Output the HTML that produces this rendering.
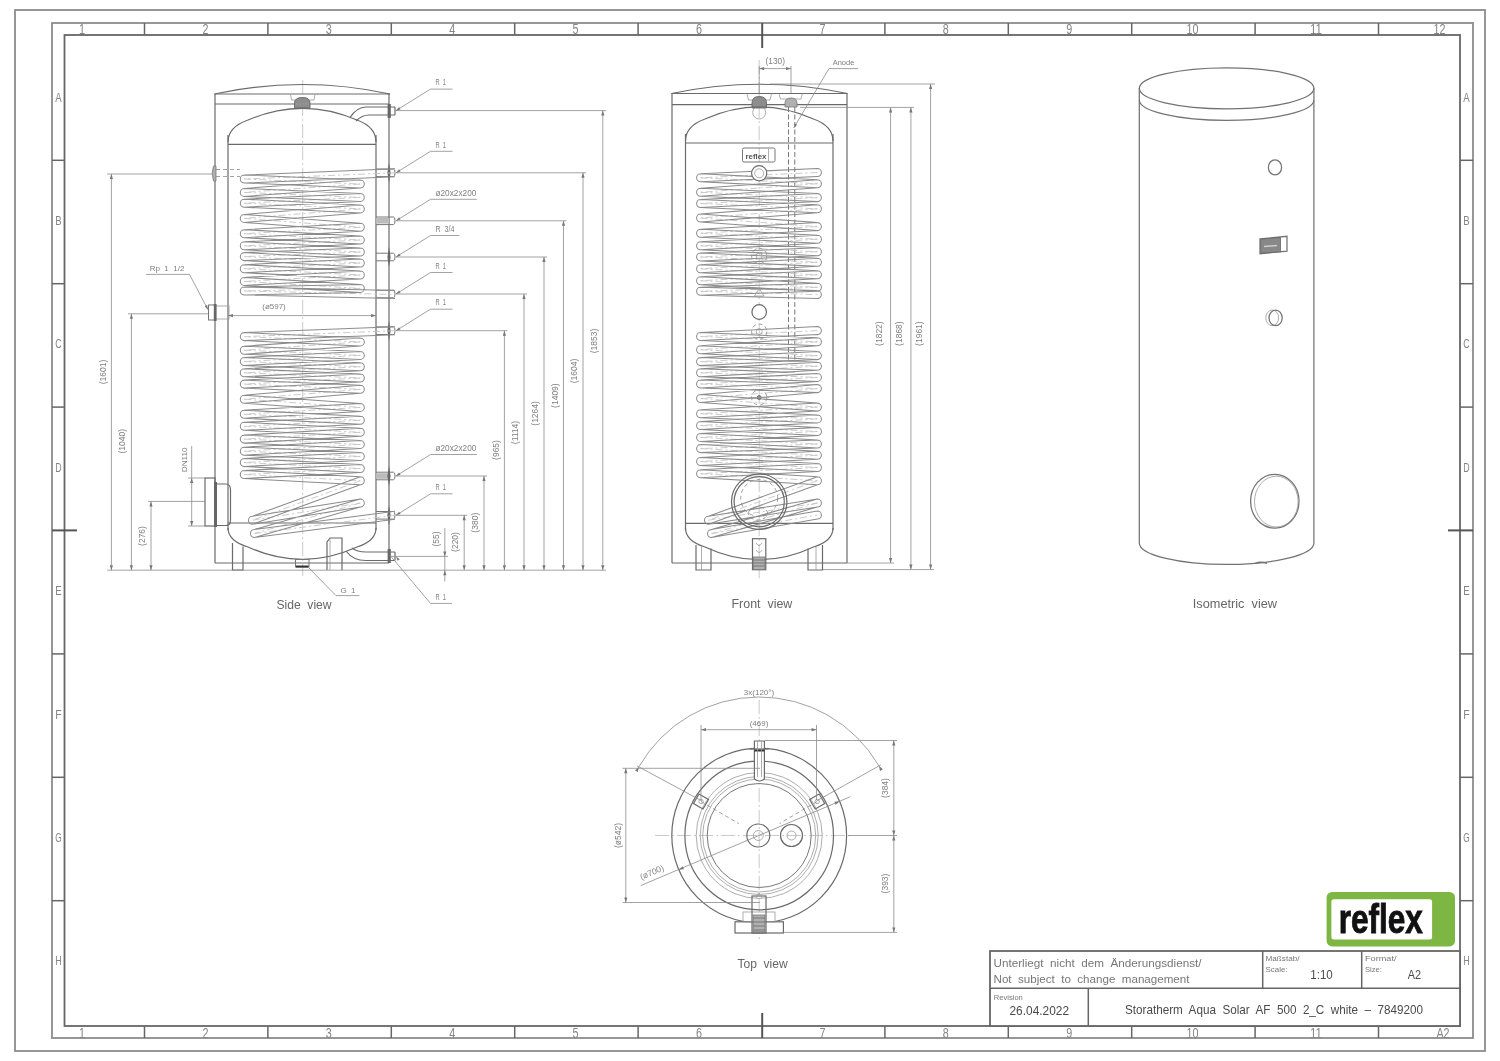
<!DOCTYPE html>
<html><head><meta charset="utf-8"><title>Storatherm Aqua Solar AF 500</title>
<style>
html,body{margin:0;padding:0;background:#fff;}
body{width:1500px;height:1061px;overflow:hidden;}
svg{display:block;font-family:"Liberation Sans",sans-serif;filter:blur(0.35px);}
.o{fill:none;stroke:#6a6a6a;stroke-width:1.2;}
.o2{fill:none;stroke:#777;stroke-width:1.0;}
.o4{fill:none;stroke:#737373;stroke-width:1.25;}
.o3w{fill:none;stroke:#ccc;stroke-width:1.6;}
.o3{fill:none;stroke:#999;stroke-width:0.8;}
.thick{fill:none;stroke:#333;stroke-width:2;}
.dk{fill:#777;stroke:#555;stroke-width:1;}
.dk3{fill:#8d8d8d;stroke:#666;stroke-width:0.9;}
.dk4{fill:#b0b0b0;stroke:#777;stroke-width:0.8;}
.dk2{fill:#888;stroke:#666;stroke-width:0.8;}
.fl{fill:#666;stroke:none;}
.d{fill:none;stroke:#8a8a8a;stroke-width:0.8;}
.c{fill:none;stroke:#bbb;stroke-width:0.8;stroke-dasharray:14 3 2 3;}
.dash2{fill:none;stroke:#777;stroke-width:1;stroke-dasharray:5 2.5;}
.dash{fill:none;stroke:#888;stroke-width:0.8;stroke-dasharray:4 3;}
.ah{fill:#777;stroke:none;}
.cl5{fill:none;stroke:#8c8c8c;stroke-width:1.05;}
.cl4{fill:none;stroke:#858585;stroke-width:1.75;stroke-linejoin:round;}
.cl3{fill:none;stroke:#8a8a8a;stroke-width:2.1;stroke-linejoin:round;}
.cl{fill:none;stroke:#7a7a7a;stroke-width:1.0;}
.cc{fill:none;stroke:#c4c4c4;stroke-width:0.9;stroke-dasharray:7 3 2 3;}
.tb{fill:none;stroke:#7a7a7a;stroke-linejoin:round;stroke-linecap:round;}
.tw{fill:none;stroke:#fff;stroke-linejoin:round;stroke-linecap:round;}
.f1{fill:none;stroke:#8c8c8c;stroke-width:1.8;}
.f2{fill:none;stroke:#666;stroke-width:1.8;}
.f3{fill:none;stroke:#666;stroke-width:1.5;}
.f4{fill:none;stroke:#555;stroke-width:2;}
.t{fill:#555;}
.tf{fill:#858585;}
.td{fill:#808080;}
.tv{fill:#666;}
.tt{fill:#777;}
.tt2{fill:#4a4a4a;}
</style></head>
<body><svg width="1500" height="1061" viewBox="0 0 1500 1061">
<rect x="0" y="0" width="1500" height="1061" fill="#fff"/>
<rect class="f1" x="15" y="10" width="1470" height="1041"/>
<rect class="f1" x="52" y="23" width="1421" height="1015"/>
<rect class="f2" x="64.5" y="35" width="1395.5" height="991"/>
<line class="f3" x1="144.5" y1="23" x2="144.5" y2="35"/>
<line class="f3" x1="144.5" y1="1026" x2="144.5" y2="1038"/>
<line class="f3" x1="267.9" y1="23" x2="267.9" y2="35"/>
<line class="f3" x1="267.9" y1="1026" x2="267.9" y2="1038"/>
<line class="f3" x1="391.3" y1="23" x2="391.3" y2="35"/>
<line class="f3" x1="391.3" y1="1026" x2="391.3" y2="1038"/>
<line class="f3" x1="514.7" y1="23" x2="514.7" y2="35"/>
<line class="f3" x1="514.7" y1="1026" x2="514.7" y2="1038"/>
<line class="f3" x1="638.1" y1="23" x2="638.1" y2="35"/>
<line class="f3" x1="638.1" y1="1026" x2="638.1" y2="1038"/>
<line class="f3" x1="884.9" y1="23" x2="884.9" y2="35"/>
<line class="f3" x1="884.9" y1="1026" x2="884.9" y2="1038"/>
<line class="f3" x1="1008.3" y1="23" x2="1008.3" y2="35"/>
<line class="f3" x1="1008.3" y1="1026" x2="1008.3" y2="1038"/>
<line class="f3" x1="1131.7" y1="23" x2="1131.7" y2="35"/>
<line class="f3" x1="1131.7" y1="1026" x2="1131.7" y2="1038"/>
<line class="f3" x1="1255.1" y1="23" x2="1255.1" y2="35"/>
<line class="f3" x1="1255.1" y1="1026" x2="1255.1" y2="1038"/>
<line class="f3" x1="1378.5" y1="23" x2="1378.5" y2="35"/>
<line class="f3" x1="1378.5" y1="1026" x2="1378.5" y2="1038"/>
<line class="f4" x1="762.2" y1="23" x2="762.2" y2="48"/>
<line class="f4" x1="762.2" y1="1013" x2="762.2" y2="1038"/>
<text class="tf" x="82" y="34.3" font-size="15" text-anchor="middle" xml:space="preserve" textLength="6" lengthAdjust="spacingAndGlyphs">1</text>
<text class="tf" x="82" y="1037.6" font-size="15" text-anchor="middle" xml:space="preserve" textLength="6" lengthAdjust="spacingAndGlyphs">1</text>
<text class="tf" x="205.4" y="34.3" font-size="15" text-anchor="middle" xml:space="preserve" textLength="6" lengthAdjust="spacingAndGlyphs">2</text>
<text class="tf" x="205.4" y="1037.6" font-size="15" text-anchor="middle" xml:space="preserve" textLength="6" lengthAdjust="spacingAndGlyphs">2</text>
<text class="tf" x="328.8" y="34.3" font-size="15" text-anchor="middle" xml:space="preserve" textLength="6" lengthAdjust="spacingAndGlyphs">3</text>
<text class="tf" x="328.8" y="1037.6" font-size="15" text-anchor="middle" xml:space="preserve" textLength="6" lengthAdjust="spacingAndGlyphs">3</text>
<text class="tf" x="452.2" y="34.3" font-size="15" text-anchor="middle" xml:space="preserve" textLength="6" lengthAdjust="spacingAndGlyphs">4</text>
<text class="tf" x="452.2" y="1037.6" font-size="15" text-anchor="middle" xml:space="preserve" textLength="6" lengthAdjust="spacingAndGlyphs">4</text>
<text class="tf" x="575.6" y="34.3" font-size="15" text-anchor="middle" xml:space="preserve" textLength="6" lengthAdjust="spacingAndGlyphs">5</text>
<text class="tf" x="575.6" y="1037.6" font-size="15" text-anchor="middle" xml:space="preserve" textLength="6" lengthAdjust="spacingAndGlyphs">5</text>
<text class="tf" x="699" y="34.3" font-size="15" text-anchor="middle" xml:space="preserve" textLength="6" lengthAdjust="spacingAndGlyphs">6</text>
<text class="tf" x="699" y="1037.6" font-size="15" text-anchor="middle" xml:space="preserve" textLength="6" lengthAdjust="spacingAndGlyphs">6</text>
<text class="tf" x="822.4" y="34.3" font-size="15" text-anchor="middle" xml:space="preserve" textLength="6" lengthAdjust="spacingAndGlyphs">7</text>
<text class="tf" x="822.4" y="1037.6" font-size="15" text-anchor="middle" xml:space="preserve" textLength="6" lengthAdjust="spacingAndGlyphs">7</text>
<text class="tf" x="945.8" y="34.3" font-size="15" text-anchor="middle" xml:space="preserve" textLength="6" lengthAdjust="spacingAndGlyphs">8</text>
<text class="tf" x="945.8" y="1037.6" font-size="15" text-anchor="middle" xml:space="preserve" textLength="6" lengthAdjust="spacingAndGlyphs">8</text>
<text class="tf" x="1069.2" y="34.3" font-size="15" text-anchor="middle" xml:space="preserve" textLength="6" lengthAdjust="spacingAndGlyphs">9</text>
<text class="tf" x="1069.2" y="1037.6" font-size="15" text-anchor="middle" xml:space="preserve" textLength="6" lengthAdjust="spacingAndGlyphs">9</text>
<text class="tf" x="1192.6" y="34.3" font-size="15" text-anchor="middle" xml:space="preserve" textLength="12" lengthAdjust="spacingAndGlyphs">10</text>
<text class="tf" x="1192.6" y="1037.6" font-size="15" text-anchor="middle" xml:space="preserve" textLength="12" lengthAdjust="spacingAndGlyphs">10</text>
<text class="tf" x="1316" y="34.3" font-size="15" text-anchor="middle" xml:space="preserve" textLength="12" lengthAdjust="spacingAndGlyphs">11</text>
<text class="tf" x="1316" y="1037.6" font-size="15" text-anchor="middle" xml:space="preserve" textLength="12" lengthAdjust="spacingAndGlyphs">11</text>
<text class="tf" x="1439.4" y="34.3" font-size="15" text-anchor="middle" xml:space="preserve" textLength="12" lengthAdjust="spacingAndGlyphs">12</text>
<text class="tf" x="1443" y="1037.6" font-size="15" text-anchor="middle" xml:space="preserve" textLength="13.2" lengthAdjust="spacingAndGlyphs">A2</text>
<line class="f3" x1="52" y1="160.3" x2="64.5" y2="160.3"/>
<line class="f3" x1="1460" y1="160.3" x2="1473" y2="160.3"/>
<line class="f3" x1="52" y1="283.7" x2="64.5" y2="283.7"/>
<line class="f3" x1="1460" y1="283.7" x2="1473" y2="283.7"/>
<line class="f3" x1="52" y1="407.1" x2="64.5" y2="407.1"/>
<line class="f3" x1="1460" y1="407.1" x2="1473" y2="407.1"/>
<line class="f3" x1="52" y1="653.9" x2="64.5" y2="653.9"/>
<line class="f3" x1="1460" y1="653.9" x2="1473" y2="653.9"/>
<line class="f3" x1="52" y1="777.3" x2="64.5" y2="777.3"/>
<line class="f3" x1="1460" y1="777.3" x2="1473" y2="777.3"/>
<line class="f3" x1="52" y1="900.7" x2="64.5" y2="900.7"/>
<line class="f3" x1="1460" y1="900.7" x2="1473" y2="900.7"/>
<line class="f4" x1="52" y1="530.4" x2="77" y2="530.4"/>
<line class="f4" x1="1448" y1="530.4" x2="1473" y2="530.4"/>
<text class="tf" x="58.4" y="101.6" font-size="13" text-anchor="middle" xml:space="preserve" textLength="6.4" lengthAdjust="spacingAndGlyphs">A</text>
<text class="tf" x="1466.5" y="101.6" font-size="13" text-anchor="middle" xml:space="preserve" textLength="6.4" lengthAdjust="spacingAndGlyphs">A</text>
<text class="tf" x="58.4" y="225" font-size="13" text-anchor="middle" xml:space="preserve" textLength="6.4" lengthAdjust="spacingAndGlyphs">B</text>
<text class="tf" x="1466.5" y="225" font-size="13" text-anchor="middle" xml:space="preserve" textLength="6.4" lengthAdjust="spacingAndGlyphs">B</text>
<text class="tf" x="58.4" y="348.4" font-size="13" text-anchor="middle" xml:space="preserve" textLength="6.4" lengthAdjust="spacingAndGlyphs">C</text>
<text class="tf" x="1466.5" y="348.4" font-size="13" text-anchor="middle" xml:space="preserve" textLength="6.4" lengthAdjust="spacingAndGlyphs">C</text>
<text class="tf" x="58.4" y="471.8" font-size="13" text-anchor="middle" xml:space="preserve" textLength="6.4" lengthAdjust="spacingAndGlyphs">D</text>
<text class="tf" x="1466.5" y="471.8" font-size="13" text-anchor="middle" xml:space="preserve" textLength="6.4" lengthAdjust="spacingAndGlyphs">D</text>
<text class="tf" x="58.4" y="595.2" font-size="13" text-anchor="middle" xml:space="preserve" textLength="6.4" lengthAdjust="spacingAndGlyphs">E</text>
<text class="tf" x="1466.5" y="595.2" font-size="13" text-anchor="middle" xml:space="preserve" textLength="6.4" lengthAdjust="spacingAndGlyphs">E</text>
<text class="tf" x="58.4" y="718.6" font-size="13" text-anchor="middle" xml:space="preserve" textLength="6.4" lengthAdjust="spacingAndGlyphs">F</text>
<text class="tf" x="1466.5" y="718.6" font-size="13" text-anchor="middle" xml:space="preserve" textLength="6.4" lengthAdjust="spacingAndGlyphs">F</text>
<text class="tf" x="58.4" y="842" font-size="13" text-anchor="middle" xml:space="preserve" textLength="6.4" lengthAdjust="spacingAndGlyphs">G</text>
<text class="tf" x="1466.5" y="842" font-size="13" text-anchor="middle" xml:space="preserve" textLength="6.4" lengthAdjust="spacingAndGlyphs">G</text>
<text class="tf" x="58.4" y="965.4" font-size="13" text-anchor="middle" xml:space="preserve" textLength="6.4" lengthAdjust="spacingAndGlyphs">H</text>
<text class="tf" x="1466.5" y="965.4" font-size="13" text-anchor="middle" xml:space="preserve" textLength="6.4" lengthAdjust="spacingAndGlyphs">H</text>
<line class="c" x1="302.7" y1="80" x2="302.7" y2="576"/>
<path class="o" d="M214.5 94 Q302.7 75 390 94"/>
<line class="o" x1="214.5" y1="94" x2="390" y2="94"/>
<line class="o" x1="215" y1="104" x2="389" y2="104"/>
<line class="o" x1="215" y1="94" x2="215" y2="563"/>
<line class="o" x1="389" y1="94" x2="389" y2="563"/>
<line class="o" x1="215" y1="563" x2="389" y2="563"/>
<path class="o3" d="M290.5 94 L291.5 100 L314 100 L315 94"/>
<path class="dk3" d="M294.5 108 L294.5 103 Q294.5 97.5 302.5 97.5 Q310 97.5 310 103 L310 108 Z"/>
<line class="o3" x1="296" y1="104" x2="309" y2="104"/>
<path class="o" d="M228 142 Q228 127 248 120 Q275 108.3 302.7 108.3 Q330 108.3 357 120 Q376 127 376 142"/>
<line class="o" x1="228" y1="135" x2="228" y2="530"/>
<line class="o" x1="376" y1="135" x2="376" y2="530"/>
<line class="o" x1="228" y1="144.3" x2="376" y2="144.3"/>
<line class="o" x1="228" y1="523" x2="376" y2="523"/>
<path class="o" d="M228 528 Q228 541 248 547 Q275 559.3 302.7 559.3 Q330 559.3 357 547 Q376 541 376 528"/>
<path class="o" d="M232.5 543 L232.5 570 L243 570 L243 546.5"/>
<path class="o" d="M327 570 L327 542 L330 538 L342 538 L342 570"/>
<line class="o3" x1="330" y1="538" x2="330" y2="570"/>
<rect class="o2" x="295.5" y="559.5" width="13.5" height="7.5"/>
<line class="thick" x1="296" y1="566.5" x2="308.5" y2="566.5"/>
<path class="o" d="M350 117.5 Q357 107 366 107 L395 107"/>
<path class="o" d="M356 121 Q362 115 369 115 L395 115"/>
<rect class="fl" x="387.6" y="104" width="3.2" height="14"/>
<line class="o" x1="395" y1="107" x2="395" y2="115"/>
<path class="o" d="M352 548 Q357 552 366 552 L395 552"/>
<path class="o" d="M346 551 Q353 560.5 366 560.5 L395 560.5"/>
<rect class="fl" x="387.6" y="549" width="3.2" height="14"/>
<line class="o" x1="395" y1="552" x2="395" y2="560.5"/>
<path class="o2" d="M376 169L393.5 169Q395 169 395 172.8L395 172.8"/>
<path class="o2" d="M376 176.6L393.5 176.6Q395 176.6 395 172.8"/>
<path class="fl" d="M389 162.8L390.6 172.8L389 182.8L387.4 172.8Z"/>
<path class="o2" d="M376 253.2L393.5 253.2Q395 253.2 395 257L395 257"/>
<path class="o2" d="M376 260.8L393.5 260.8Q395 260.8 395 257"/>
<path class="fl" d="M389 247L390.6 257L389 267L387.4 257Z"/>
<path class="o2" d="M376 326.9L393.5 326.9Q395 326.9 395 330.7L395 330.7"/>
<path class="o2" d="M376 334.5L393.5 334.5Q395 334.5 395 330.7"/>
<path class="fl" d="M389 320.7L390.6 330.7L389 340.7L387.4 330.7Z"/>
<path class="o2" d="M376 511.5L393.5 511.5Q395 511.5 395 515.3L395 515.3"/>
<path class="o2" d="M376 519.1L393.5 519.1Q395 519.1 395 515.3"/>
<path class="fl" d="M389 505.3L390.6 515.3L389 525.3L387.4 515.3Z"/>
<path class="o2" d="M376 217L393.5 217Q395 217 395 220.8L395 220.8"/>
<path class="o2" d="M376 224.6L393.5 224.6Q395 224.6 395 220.8"/>
<rect x="376" y="218" width="13" height="5.6" fill="#bbb"/>
<path class="o2" d="M376 472.2L393.5 472.2Q395 472.2 395 476L395 476"/>
<path class="o2" d="M376 479.8L393.5 479.8Q395 479.8 395 476"/>
<rect x="376" y="473.2" width="13" height="5.6" fill="#bbb"/>
<path class="fl" d="M389 466L390.6 476L389 486L387.4 476Z"/>
<path class="o2" d="M376 290.2L393.5 290.2Q395 290.2 395 294L395 294"/>
<path class="o2" d="M376 297.8L393.5 297.8Q395 297.8 395 294"/>
<path class="dk4" d="M213.5 166 Q211 173 213.5 181 L216 181 L216 166 Z"/>
<rect class="o2" x="208.5" y="305" width="7" height="15"/>
<rect class="o3" x="215" y="306" width="14" height="13"/>
<rect class="fl" x="213.8" y="304" width="2.8" height="17"/>
<rect class="o" x="205" y="478" width="10" height="48"/>
<path class="o" d="M215 484 L226 484 Q230.5 484 230.5 490 L230.5 520 Q230.5 525.5 226 525.5 L215 525.5"/>
<rect class="fl" x="214" y="482" width="3" height="45"/>
<path class="cc" d="M395 172.8L244.3 179M244.3 179L360.3 184M360.3 184L244.3 192.4M244.3 192.4L360.3 197.4M360.3 197.4L244.3 203.2M244.3 203.2L360.3 208.9M360.3 208.9L244.3 218.4M244.3 218.4L360.3 227.3M360.3 227.3L244.3 233.7M244.3 233.7L360.3 240M360.3 240L244.3 245.8M244.3 245.8L360.3 252M360.3 252L244.3 256.6M244.3 256.6L360.3 263M360.3 263L244.3 268.7M244.3 268.7L360.3 275M360.3 275L244.3 281.4M244.3 281.4L360.3 288.4M360.3 288.4L244.3 291M244.3 291L395 294.5"/>
<path class="cl5" d="M395 168.8L244.3 175M395 176.8L244.3 183M244.3 175L360.3 180M244.3 183L360.3 188M360.3 180L244.3 188.4M360.3 188L244.3 196.4M244.3 188.4L360.3 193.4M244.3 196.4L360.3 201.4M360.3 193.4L244.3 199.2M360.3 201.4L244.3 207.2M244.3 199.2L360.3 204.9M244.3 207.2L360.3 212.9M360.3 204.9L244.3 214.4M360.3 212.9L244.3 222.4M244.3 214.4L360.3 223.3M244.3 222.4L360.3 231.3M360.3 223.3L244.3 229.7M360.3 231.3L244.3 237.7M244.3 229.7L360.3 236M244.3 237.7L360.3 244M360.3 236L244.3 241.8M360.3 244L244.3 249.8M244.3 241.8L360.3 248M244.3 249.8L360.3 256M360.3 248L244.3 252.6M360.3 256L244.3 260.6M244.3 252.6L360.3 259M244.3 260.6L360.3 267M360.3 259L244.3 264.7M360.3 267L244.3 272.7M244.3 264.7L360.3 271M244.3 272.7L360.3 279M360.3 271L244.3 277.4M360.3 279L244.3 285.4M244.3 277.4L360.3 284.4M244.3 285.4L360.3 292.4M360.3 284.4L244.3 287M360.3 292.4L244.3 295M244.3 287L395 290.5M244.3 295L395 298.5M244.3 175A4 4 0 0 0 244.3 183M360.3 180A4 4 0 0 1 360.3 188M244.3 188.4A4 4 0 0 0 244.3 196.4M360.3 193.4A4 4 0 0 1 360.3 201.4M244.3 199.2A4 4 0 0 0 244.3 207.2M360.3 204.9A4 4 0 0 1 360.3 212.9M244.3 214.4A4 4 0 0 0 244.3 222.4M360.3 223.3A4 4 0 0 1 360.3 231.3M244.3 229.7A4 4 0 0 0 244.3 237.7M360.3 236A4 4 0 0 1 360.3 244M244.3 241.8A4 4 0 0 0 244.3 249.8M360.3 248A4 4 0 0 1 360.3 256M244.3 252.6A4 4 0 0 0 244.3 260.6M360.3 259A4 4 0 0 1 360.3 267M244.3 264.7A4 4 0 0 0 244.3 272.7M360.3 271A4 4 0 0 1 360.3 279M244.3 277.4A4 4 0 0 0 244.3 285.4M360.3 284.4A4 4 0 0 1 360.3 292.4M244.3 287A4 4 0 0 0 244.3 295"/>
<path class="dash" d="M216 169.5 L240 169.5 M216 176.5 L240 176.5"/>
<path class="cc" d="M395 330.7L244.3 336.6M244.3 336.6L360.3 341.9M360.3 341.9L244.3 350.2M244.3 350.2L360.3 355.4M360.3 355.4L244.3 361.5M244.3 361.5L360.3 366.7M360.3 366.7L244.3 372.8M244.3 372.8L360.3 378M360.3 378L244.3 384.1M244.3 384.1L360.3 389.3M360.3 389.3L244.3 399.2M244.3 399.2L360.3 407.4M360.3 407.4L244.3 414.2M244.3 414.2L360.3 420.3M360.3 420.3L244.3 426.3M244.3 426.3L360.3 432.3M360.3 432.3L244.3 439.1M244.3 439.1L360.3 444.4M360.3 444.4L244.3 451.2M244.3 451.2L360.3 456.4M360.3 456.4L244.3 462.5M244.3 462.5L360.3 468.5M360.3 468.5L244.3 474.5M244.3 474.5L360.3 480.7M360.3 480.7L252.5 520.2M252.5 520.2L360.3 503M360.3 503L254.5 533.5M254.5 533.5L395 515.3"/>
<path class="cl5" d="M395 326.7L244.3 332.6M395 334.7L244.3 340.6M244.3 332.6L360.3 337.9M244.3 340.6L360.3 345.9M360.3 337.9L244.3 346.2M360.3 345.9L244.3 354.2M244.3 346.2L360.3 351.4M244.3 354.2L360.3 359.4M360.3 351.4L244.3 357.5M360.3 359.4L244.3 365.5M244.3 357.5L360.3 362.7M244.3 365.5L360.3 370.7M360.3 362.7L244.3 368.8M360.3 370.7L244.3 376.8M244.3 368.8L360.3 374M244.3 376.8L360.3 382M360.3 374L244.3 380.1M360.3 382L244.3 388.1M244.3 380.1L360.3 385.3M244.3 388.1L360.3 393.3M360.3 385.3L244.3 395.2M360.3 393.3L244.3 403.2M244.3 395.2L360.3 403.4M244.3 403.2L360.3 411.4M360.3 403.4L244.3 410.2M360.3 411.4L244.3 418.2M244.3 410.2L360.3 416.3M244.3 418.2L360.3 424.3M360.3 416.3L244.3 422.3M360.3 424.3L244.3 430.3M244.3 422.3L360.3 428.3M244.3 430.3L360.3 436.3M360.3 428.3L244.3 435.1M360.3 436.3L244.3 443.1M244.3 435.1L360.3 440.4M244.3 443.1L360.3 448.4M360.3 440.4L244.3 447.2M360.3 448.4L244.3 455.2M244.3 447.2L360.3 452.4M244.3 455.2L360.3 460.4M360.3 452.4L244.3 458.5M360.3 460.4L244.3 466.5M244.3 458.5L360.3 464.5M244.3 466.5L360.3 472.5M360.3 464.5L244.3 470.5M360.3 472.5L244.3 478.5M244.3 470.5L360.3 476.7M244.3 478.5L360.3 484.7M360.3 476.7L252.5 516.2M360.3 484.7L252.5 524.2M252.5 516.2L360.3 499M252.5 524.2L360.3 507M360.3 499L254.5 529.5M360.3 507L254.5 537.5M254.5 529.5L395 511.3M254.5 537.5L395 519.3M244.3 332.6A4 4 0 0 0 244.3 340.6M360.3 337.9A4 4 0 0 1 360.3 345.9M244.3 346.2A4 4 0 0 0 244.3 354.2M360.3 351.4A4 4 0 0 1 360.3 359.4M244.3 357.5A4 4 0 0 0 244.3 365.5M360.3 362.7A4 4 0 0 1 360.3 370.7M244.3 368.8A4 4 0 0 0 244.3 376.8M360.3 374A4 4 0 0 1 360.3 382M244.3 380.1A4 4 0 0 0 244.3 388.1M360.3 385.3A4 4 0 0 1 360.3 393.3M244.3 395.2A4 4 0 0 0 244.3 403.2M360.3 403.4A4 4 0 0 1 360.3 411.4M244.3 410.2A4 4 0 0 0 244.3 418.2M360.3 416.3A4 4 0 0 1 360.3 424.3M244.3 422.3A4 4 0 0 0 244.3 430.3M360.3 428.3A4 4 0 0 1 360.3 436.3M244.3 435.1A4 4 0 0 0 244.3 443.1M360.3 440.4A4 4 0 0 1 360.3 448.4M244.3 447.2A4 4 0 0 0 244.3 455.2M360.3 452.4A4 4 0 0 1 360.3 460.4M244.3 458.5A4 4 0 0 0 244.3 466.5M360.3 464.5A4 4 0 0 1 360.3 472.5M244.3 470.5A4 4 0 0 0 244.3 478.5M360.3 476.7A4 4 0 0 1 360.3 484.7M252.5 516.2A4 4 0 0 0 252.5 524.2M360.3 499A4 4 0 0 1 360.3 507M254.5 529.5A4 4 0 0 0 254.5 537.5"/>
<line class="d" x1="228" y1="315.6" x2="376" y2="315.6"/>
<path class="ah" d="M228 315.6L233 314L233 317.2Z"/>
<path class="ah" d="M376 315.6L371 317.2L371 314Z"/>
<text class="td" x="274" y="308.5" font-size="8" text-anchor="middle" xml:space="preserve">(ø597)</text>
<line class="d" x1="107.2" y1="570.2" x2="606" y2="570.2"/>
<line class="d" x1="107" y1="174" x2="212" y2="174"/>
<line class="d" x1="111.4" y1="174" x2="111.4" y2="570.2"/>
<path class="ah" d="M111.4 174L113 179L109.8 179Z"/>
<path class="ah" d="M111.4 570.2L109.8 565.2L113 565.2Z"/>
<text class="td" x="106" y="372" font-size="8.5" text-anchor="middle" xml:space="preserve" transform="rotate(-90 106 372)">(1601)</text>
<line class="d" x1="128" y1="313.8" x2="208" y2="313.8"/>
<line class="d" x1="131.4" y1="313.8" x2="131.4" y2="570.2"/>
<path class="ah" d="M131.4 313.8L133 318.8L129.8 318.8Z"/>
<path class="ah" d="M131.4 570.2L129.8 565.2L133 565.2Z"/>
<text class="td" x="125.5" y="441.3" font-size="8.5" text-anchor="middle" xml:space="preserve" transform="rotate(-90 125.5 441.3)">(1040)</text>
<line class="d" x1="148" y1="501.4" x2="205" y2="501.4"/>
<line class="d" x1="151" y1="501.4" x2="151" y2="570.2"/>
<path class="ah" d="M151 501.4L152.6 506.4L149.4 506.4Z"/>
<path class="ah" d="M151 570.2L149.4 565.2L152.6 565.2Z"/>
<text class="td" x="145.3" y="536" font-size="8.5" text-anchor="middle" xml:space="preserve" transform="rotate(-90 145.3 536)">(276)</text>
<line class="d" x1="188" y1="478" x2="205" y2="478"/>
<line class="d" x1="188" y1="526" x2="205" y2="526"/>
<line class="d" x1="191.7" y1="446" x2="191.7" y2="526"/>
<path class="ah" d="M191.7 478L193.3 483L190.1 483Z"/>
<path class="ah" d="M191.7 526L190.1 521L193.3 521Z"/>
<text class="td" x="186.8" y="459.8" font-size="7.8" text-anchor="middle" xml:space="preserve" transform="rotate(-90 186.8 459.8)" textLength="25" lengthAdjust="spacingAndGlyphs">DN110</text>
<line class="d" x1="146" y1="274.4" x2="189.5" y2="274.4"/>
<line class="d" x1="189.5" y1="274.4" x2="208" y2="309.7"/>
<path class="ah" d="M208 309.7L204.67 306.36L207.15 305.06Z"/>
<text class="td" x="167" y="271" font-size="8" text-anchor="middle" xml:space="preserve">Rp  1  1/2</text>
<line class="d" x1="396" y1="110.6" x2="605.8" y2="110.6"/>
<line class="d" x1="602.8" y1="110.6" x2="602.8" y2="570.2"/>
<path class="ah" d="M602.8 110.6L604.4 115.6L601.2 115.6Z"/>
<path class="ah" d="M602.8 570.2L601.2 565.2L604.4 565.2Z"/>
<text class="td" x="597" y="341" font-size="8.5" text-anchor="middle" xml:space="preserve" transform="rotate(-90 597 341)">(1853)</text>
<line class="d" x1="396" y1="172.8" x2="586" y2="172.8"/>
<line class="d" x1="583" y1="172.8" x2="583" y2="570.2"/>
<path class="ah" d="M583 172.8L584.6 177.8L581.4 177.8Z"/>
<path class="ah" d="M583 570.2L581.4 565.2L584.6 565.2Z"/>
<text class="td" x="577.2" y="371" font-size="8.5" text-anchor="middle" xml:space="preserve" transform="rotate(-90 577.2 371)">(1604)</text>
<line class="d" x1="396" y1="220.8" x2="566.5" y2="220.8"/>
<line class="d" x1="563.5" y1="220.8" x2="563.5" y2="570.2"/>
<path class="ah" d="M563.5 220.8L565.1 225.8L561.9 225.8Z"/>
<path class="ah" d="M563.5 570.2L561.9 565.2L565.1 565.2Z"/>
<text class="td" x="557.7" y="395.6" font-size="8.5" text-anchor="middle" xml:space="preserve" transform="rotate(-90 557.7 395.6)">(1409)</text>
<line class="d" x1="396" y1="257" x2="547" y2="257"/>
<line class="d" x1="544" y1="257" x2="544" y2="570.2"/>
<path class="ah" d="M544 257L545.6 262L542.4 262Z"/>
<path class="ah" d="M544 570.2L542.4 565.2L545.6 565.2Z"/>
<text class="td" x="538.2" y="413.4" font-size="8.5" text-anchor="middle" xml:space="preserve" transform="rotate(-90 538.2 413.4)">(1264)</text>
<line class="d" x1="396" y1="294" x2="527" y2="294"/>
<line class="d" x1="524" y1="294" x2="524" y2="570.2"/>
<path class="ah" d="M524 294L525.6 299L522.4 299Z"/>
<path class="ah" d="M524 570.2L522.4 565.2L525.6 565.2Z"/>
<text class="td" x="518.2" y="432.5" font-size="8.5" text-anchor="middle" xml:space="preserve" transform="rotate(-90 518.2 432.5)">(1114)</text>
<line class="d" x1="396" y1="330.7" x2="507.4" y2="330.7"/>
<line class="d" x1="504.4" y1="330.7" x2="504.4" y2="570.2"/>
<path class="ah" d="M504.4 330.7L506 335.7L502.8 335.7Z"/>
<path class="ah" d="M504.4 570.2L502.8 565.2L506 565.2Z"/>
<text class="td" x="498.6" y="450" font-size="8.5" text-anchor="middle" xml:space="preserve" transform="rotate(-90 498.6 450)">(965)</text>
<line class="d" x1="396" y1="476" x2="487" y2="476"/>
<line class="d" x1="484" y1="476" x2="484" y2="570.2"/>
<path class="ah" d="M484 476L485.6 481L482.4 481Z"/>
<path class="ah" d="M484 570.2L482.4 565.2L485.6 565.2Z"/>
<text class="td" x="478.2" y="522.7" font-size="8.5" text-anchor="middle" xml:space="preserve" transform="rotate(-90 478.2 522.7)">(380)</text>
<line class="d" x1="396" y1="515.3" x2="467.2" y2="515.3"/>
<line class="d" x1="464.2" y1="515.3" x2="464.2" y2="570.2"/>
<path class="ah" d="M464.2 515.3L465.8 520.3L462.6 520.3Z"/>
<path class="ah" d="M464.2 570.2L462.6 565.2L465.8 565.2Z"/>
<text class="td" x="458.4" y="542" font-size="8.5" text-anchor="middle" xml:space="preserve" transform="rotate(-90 458.4 542)">(220)</text>
<line class="d" x1="391" y1="556.4" x2="448" y2="556.4"/>
<line class="d" x1="444.8" y1="528" x2="444.8" y2="581.5"/>
<path class="ah" d="M444.8 556.4L443.2 551.4L446.4 551.4Z"/>
<path class="ah" d="M444.8 570.2L446.4 575.2L443.2 575.2Z"/>
<text class="td" x="439.2" y="539" font-size="8.5" text-anchor="middle" xml:space="preserve" transform="rotate(-90 439.2 539)">(55)</text>
<line class="d" x1="396" y1="110.6" x2="430.5" y2="89.1"/>
<line class="d" x1="430.5" y1="89.1" x2="452.5" y2="89.1"/>
<text class="td" x="435.5" y="85.3" font-size="8.4" text-anchor="start" xml:space="preserve" textLength="10.5" lengthAdjust="spacingAndGlyphs">R  1</text>
<path class="ah" d="M396 110.6L399.08 107.03L400.56 109.41Z"/>
<line class="d" x1="396" y1="172.8" x2="430.5" y2="151.3"/>
<line class="d" x1="430.5" y1="151.3" x2="452.5" y2="151.3"/>
<text class="td" x="435.5" y="147.5" font-size="8.4" text-anchor="start" xml:space="preserve" textLength="10.5" lengthAdjust="spacingAndGlyphs">R  1</text>
<path class="ah" d="M396 172.8L399.08 169.23L400.56 171.61Z"/>
<line class="d" x1="396" y1="220.8" x2="430.5" y2="199.3"/>
<line class="d" x1="430.5" y1="199.3" x2="476.9" y2="199.3"/>
<text class="td" x="435.5" y="195.5" font-size="8.4" text-anchor="start" xml:space="preserve" textLength="40.8" lengthAdjust="spacingAndGlyphs">ø20x2x200</text>
<path class="ah" d="M396 220.8L399.08 217.23L400.56 219.61Z"/>
<line class="d" x1="396" y1="257" x2="430.5" y2="235.5"/>
<line class="d" x1="430.5" y1="235.5" x2="459.5" y2="235.5"/>
<text class="td" x="435.5" y="231.7" font-size="8.4" text-anchor="start" xml:space="preserve" textLength="19" lengthAdjust="spacingAndGlyphs">R  3/4</text>
<path class="ah" d="M396 257L399.08 253.43L400.56 255.81Z"/>
<line class="d" x1="396" y1="294" x2="430.5" y2="272.5"/>
<line class="d" x1="430.5" y1="272.5" x2="452.5" y2="272.5"/>
<text class="td" x="435.5" y="268.7" font-size="8.4" text-anchor="start" xml:space="preserve" textLength="10.5" lengthAdjust="spacingAndGlyphs">R  1</text>
<path class="ah" d="M396 294L399.08 290.43L400.56 292.81Z"/>
<line class="d" x1="396" y1="330.7" x2="430.5" y2="309.2"/>
<line class="d" x1="430.5" y1="309.2" x2="452.5" y2="309.2"/>
<text class="td" x="435.5" y="305.4" font-size="8.4" text-anchor="start" xml:space="preserve" textLength="10.5" lengthAdjust="spacingAndGlyphs">R  1</text>
<path class="ah" d="M396 330.7L399.08 327.13L400.56 329.51Z"/>
<line class="d" x1="396" y1="476" x2="430.5" y2="454.5"/>
<line class="d" x1="430.5" y1="454.5" x2="476.9" y2="454.5"/>
<text class="td" x="435.5" y="450.7" font-size="8.4" text-anchor="start" xml:space="preserve" textLength="40.8" lengthAdjust="spacingAndGlyphs">ø20x2x200</text>
<path class="ah" d="M396 476L399.08 472.43L400.56 474.81Z"/>
<line class="d" x1="396" y1="515.3" x2="430.5" y2="493.8"/>
<line class="d" x1="430.5" y1="493.8" x2="452.5" y2="493.8"/>
<text class="td" x="435.5" y="490" font-size="8.4" text-anchor="start" xml:space="preserve" textLength="10.5" lengthAdjust="spacingAndGlyphs">R  1</text>
<path class="ah" d="M396 515.3L399.08 511.73L400.56 514.11Z"/>
<line class="d" x1="391" y1="556.4" x2="430.5" y2="603.4"/>
<line class="d" x1="430.5" y1="603.4" x2="452" y2="603.4"/>
<text class="td" x="435.5" y="599.7" font-size="8.4" text-anchor="start" xml:space="preserve" textLength="10.5" lengthAdjust="spacingAndGlyphs">R  1</text>
<path class="ah" d="M396 556.4L399.79 559.2L397.53 560.86Z"/>
<line class="d" x1="308" y1="567" x2="336" y2="595.6"/>
<line class="d" x1="336" y1="595.6" x2="359.4" y2="595.6"/>
<text class="td" x="348" y="592.5" font-size="8" text-anchor="middle" xml:space="preserve">G  1</text>
<text class="tv" x="276.4" y="608.5" font-size="12" text-anchor="start" xml:space="preserve" textLength="55.2" lengthAdjust="spacingAndGlyphs">Side  view</text>
<line class="c" x1="759.2" y1="60" x2="759.2" y2="578"/>
<path class="o" d="M671.5 93.5 Q759.2 75 847.5 93.5"/>
<line class="o" x1="671.5" y1="93.5" x2="847.5" y2="93.5"/>
<line class="o" x1="672" y1="104.7" x2="847" y2="104.7"/>
<line class="o" x1="672" y1="93.5" x2="672" y2="563"/>
<line class="o" x1="847" y1="93.5" x2="847" y2="563"/>
<line class="o" x1="672" y1="563" x2="847" y2="563"/>
<path class="o3" d="M747 93.5 L748.5 100 L770 100 L771.5 93.5"/>
<path class="o3" d="M779 93.5 L780.5 99 L801 99 L802.5 93.5"/>
<path class="dk3" d="M752 108 L752 103 Q752 96.5 759.2 96.5 Q766.5 96.5 766.5 103 L766.5 108 Z"/>
<circle class="o3" cx="759.2" cy="112.5" r="6.5"/>
<path class="dk4" d="M785 107 L785 103 Q785 98 791 98 Q797 98 797 103 L797 107 Z"/>
<path class="o" d="M685.5 141 Q685.5 126 705 119 Q732 106.8 759.2 106.8 Q786.5 106.8 813.5 119 Q833 126 833 141"/>
<line class="o" x1="685.5" y1="134" x2="685.5" y2="530"/>
<line class="o" x1="833" y1="134" x2="833" y2="530"/>
<line class="o" x1="685.5" y1="143" x2="833" y2="143"/>
<line class="o" x1="685.5" y1="523.4" x2="833" y2="523.4"/>
<path class="o" d="M685.5 528 Q685.5 541 705 547 Q732 559.7 759.2 559.7 Q786.5 559.7 813.5 547 Q833 541 833 528"/>
<path class="o" d="M696 545 L696 570 L711 570 L711 548.5"/>
<line class="o3" x1="701.5" y1="546.5" x2="701.5" y2="570"/>
<path class="o" d="M808 548.5 L808 570 L822.5 570 L822.5 545"/>
<line class="o3" x1="816" y1="546.5" x2="816" y2="570"/>
<rect class="o" x="752.5" y="538.7" width="13.3" height="31"/>
<rect class="dk4" x="753.3" y="557" width="11.7" height="12.5"/>
<path class="o2" d="M753.5 560 L765 560 M753.5 563 L765 563 M753.5 566 L765 566"/>
<path class="o3" d="M756 543 Q759 548 762 543 M756 550 Q759 555 762 550"/>
<rect class="o2" x="742.5" y="148" width="32.5" height="14" rx="1.5"/>
<line class="o3" x1="768.5" y1="149" x2="768.5" y2="161"/>
<text x="745.5" y="158.6" font-size="8" font-weight="bold" fill="#555" textLength="21" lengthAdjust="spacingAndGlyphs">reflex</text>
<line class="dash2" x1="788.5" y1="107" x2="788.5" y2="360.6"/>
<line class="dash2" x1="794.8" y1="107" x2="794.8" y2="360.6"/>
<line class="o3" x1="788.5" y1="360.6" x2="794.8" y2="360.6"/>
<path class="cc" d="M817.4 172.5L700.6 177.8M700.6 177.8L817.4 183.7M817.4 183.7L700.6 192.3M700.6 192.3L817.4 197.6M817.4 197.6L700.6 203.5M700.6 203.5L817.4 208.8M817.4 208.8L700.6 218M700.6 218L817.4 226.6M817.4 226.6L700.6 233.2M700.6 233.2L817.4 239.2M817.4 239.2L700.6 245.8M700.6 245.8L817.4 251.7M817.4 251.7L700.6 257M700.6 257L817.4 262.2M817.4 262.2L700.6 268.8M700.6 268.8L817.4 274.8M817.4 274.8L700.6 280.7M700.6 280.7L817.4 287.3M817.4 287.3L700.6 291.3M700.6 291.3L817.4 294.6"/>
<path class="cl5" d="M817.4 168.5L700.6 173.8M817.4 176.5L700.6 181.8M700.6 173.8L817.4 179.7M700.6 181.8L817.4 187.7M817.4 179.7L700.6 188.3M817.4 187.7L700.6 196.3M700.6 188.3L817.4 193.6M700.6 196.3L817.4 201.6M817.4 193.6L700.6 199.5M817.4 201.6L700.6 207.5M700.6 199.5L817.4 204.8M700.6 207.5L817.4 212.8M817.4 204.8L700.6 214M817.4 212.8L700.6 222M700.6 214L817.4 222.6M700.6 222L817.4 230.6M817.4 222.6L700.6 229.2M817.4 230.6L700.6 237.2M700.6 229.2L817.4 235.2M700.6 237.2L817.4 243.2M817.4 235.2L700.6 241.8M817.4 243.2L700.6 249.8M700.6 241.8L817.4 247.7M700.6 249.8L817.4 255.7M817.4 247.7L700.6 253M817.4 255.7L700.6 261M700.6 253L817.4 258.2M700.6 261L817.4 266.2M817.4 258.2L700.6 264.8M817.4 266.2L700.6 272.8M700.6 264.8L817.4 270.8M700.6 272.8L817.4 278.8M817.4 270.8L700.6 276.7M817.4 278.8L700.6 284.7M700.6 276.7L817.4 283.3M700.6 284.7L817.4 291.3M817.4 283.3L700.6 287.3M817.4 291.3L700.6 295.3M700.6 287.3L817.4 290.6M700.6 295.3L817.4 298.6M817.4 168.5A4 4 0 0 1 817.4 176.5M700.6 173.8A4 4 0 0 0 700.6 181.8M817.4 179.7A4 4 0 0 1 817.4 187.7M700.6 188.3A4 4 0 0 0 700.6 196.3M817.4 193.6A4 4 0 0 1 817.4 201.6M700.6 199.5A4 4 0 0 0 700.6 207.5M817.4 204.8A4 4 0 0 1 817.4 212.8M700.6 214A4 4 0 0 0 700.6 222M817.4 222.6A4 4 0 0 1 817.4 230.6M700.6 229.2A4 4 0 0 0 700.6 237.2M817.4 235.2A4 4 0 0 1 817.4 243.2M700.6 241.8A4 4 0 0 0 700.6 249.8M817.4 247.7A4 4 0 0 1 817.4 255.7M700.6 253A4 4 0 0 0 700.6 261M817.4 258.2A4 4 0 0 1 817.4 266.2M700.6 264.8A4 4 0 0 0 700.6 272.8M817.4 270.8A4 4 0 0 1 817.4 278.8M700.6 276.7A4 4 0 0 0 700.6 284.7M817.4 283.3A4 4 0 0 1 817.4 291.3M700.6 287.3A4 4 0 0 0 700.6 295.3M817.4 290.6A4 4 0 0 1 817.4 298.6"/>
<path class="cc" d="M817.4 330.6L700.6 336.5M700.6 336.5L817.4 341.8M817.4 341.8L700.6 349.7M700.6 349.7L817.4 355.6M817.4 355.6L700.6 361.6M700.6 361.6L817.4 366.2M817.4 366.2L700.6 372.8M700.6 372.8L817.4 377.4M817.4 377.4L700.6 384M700.6 384L817.4 388.6M817.4 388.6L700.6 398.5M700.6 398.5L817.4 407.1M817.4 407.1L700.6 413.7M700.6 413.7L817.4 418.9M817.4 418.9L700.6 425.5M700.6 425.5L817.4 431.5M817.4 431.5L700.6 437.4M700.6 437.4L817.4 444M817.4 444L700.6 448.6M700.6 448.6L817.4 455.2M817.4 455.2L700.6 461.5M700.6 461.5L817.4 467.5M817.4 467.5L700.6 473.7M700.6 473.7L817.4 480.7M817.4 480.7L708.5 520.2M708.5 520.2L817.4 503M817.4 503L711.5 533.6M711.5 533.6L817.4 515"/>
<path class="cl5" d="M817.4 326.6L700.6 332.5M817.4 334.6L700.6 340.5M700.6 332.5L817.4 337.8M700.6 340.5L817.4 345.8M817.4 337.8L700.6 345.7M817.4 345.8L700.6 353.7M700.6 345.7L817.4 351.6M700.6 353.7L817.4 359.6M817.4 351.6L700.6 357.6M817.4 359.6L700.6 365.6M700.6 357.6L817.4 362.2M700.6 365.6L817.4 370.2M817.4 362.2L700.6 368.8M817.4 370.2L700.6 376.8M700.6 368.8L817.4 373.4M700.6 376.8L817.4 381.4M817.4 373.4L700.6 380M817.4 381.4L700.6 388M700.6 380L817.4 384.6M700.6 388L817.4 392.6M817.4 384.6L700.6 394.5M817.4 392.6L700.6 402.5M700.6 394.5L817.4 403.1M700.6 402.5L817.4 411.1M817.4 403.1L700.6 409.7M817.4 411.1L700.6 417.7M700.6 409.7L817.4 414.9M700.6 417.7L817.4 422.9M817.4 414.9L700.6 421.5M817.4 422.9L700.6 429.5M700.6 421.5L817.4 427.5M700.6 429.5L817.4 435.5M817.4 427.5L700.6 433.4M817.4 435.5L700.6 441.4M700.6 433.4L817.4 440M700.6 441.4L817.4 448M817.4 440L700.6 444.6M817.4 448L700.6 452.6M700.6 444.6L817.4 451.2M700.6 452.6L817.4 459.2M817.4 451.2L700.6 457.5M817.4 459.2L700.6 465.5M700.6 457.5L817.4 463.5M700.6 465.5L817.4 471.5M817.4 463.5L700.6 469.7M817.4 471.5L700.6 477.7M700.6 469.7L817.4 476.7M700.6 477.7L817.4 484.7M817.4 476.7L708.5 516.2M817.4 484.7L708.5 524.2M708.5 516.2L817.4 499M708.5 524.2L817.4 507M817.4 499L711.5 529.6M817.4 507L711.5 537.6M711.5 529.6L817.4 511M711.5 537.6L817.4 519M817.4 326.6A4 4 0 0 1 817.4 334.6M700.6 332.5A4 4 0 0 0 700.6 340.5M817.4 337.8A4 4 0 0 1 817.4 345.8M700.6 345.7A4 4 0 0 0 700.6 353.7M817.4 351.6A4 4 0 0 1 817.4 359.6M700.6 357.6A4 4 0 0 0 700.6 365.6M817.4 362.2A4 4 0 0 1 817.4 370.2M700.6 368.8A4 4 0 0 0 700.6 376.8M817.4 373.4A4 4 0 0 1 817.4 381.4M700.6 380A4 4 0 0 0 700.6 388M817.4 384.6A4 4 0 0 1 817.4 392.6M700.6 394.5A4 4 0 0 0 700.6 402.5M817.4 403.1A4 4 0 0 1 817.4 411.1M700.6 409.7A4 4 0 0 0 700.6 417.7M817.4 414.9A4 4 0 0 1 817.4 422.9M700.6 421.5A4 4 0 0 0 700.6 429.5M817.4 427.5A4 4 0 0 1 817.4 435.5M700.6 433.4A4 4 0 0 0 700.6 441.4M817.4 440A4 4 0 0 1 817.4 448M700.6 444.6A4 4 0 0 0 700.6 452.6M817.4 451.2A4 4 0 0 1 817.4 459.2M700.6 457.5A4 4 0 0 0 700.6 465.5M817.4 463.5A4 4 0 0 1 817.4 471.5M700.6 469.7A4 4 0 0 0 700.6 477.7M817.4 476.7A4 4 0 0 1 817.4 484.7M708.5 516.2A4 4 0 0 0 708.5 524.2M817.4 499A4 4 0 0 1 817.4 507M711.5 529.6A4 4 0 0 0 711.5 537.6M817.4 511A4 4 0 0 1 817.4 519"/>
<circle cx="759.2" cy="173.3" r="7.6" fill="#fff" stroke="none"/>
<circle class="o" cx="759.2" cy="173.3" r="7.6"/>
<circle class="o3" cx="759.2" cy="173.3" r="4.5"/>
<circle class="dash" cx="759.2" cy="256" r="7.6"/>
<circle class="o3" cx="759.2" cy="256" r="3"/>
<path class="o3" d="M754.5 296 L759.2 288.5 L764 296 Z"/>
<circle cx="759.2" cy="312" r="7.3" fill="#fff" stroke="none"/>
<circle class="o" cx="759.2" cy="312" r="7.3"/>
<circle class="dash" cx="759.2" cy="331.6" r="7.6"/>
<circle class="o3" cx="759.2" cy="331.6" r="3"/>
<circle class="dash" cx="759.2" cy="397.5" r="7.6"/>
<circle class="dk2" cx="759.2" cy="397.5" r="2"/>
<line class="o3" x1="749.2" y1="397.5" x2="769.2" y2="397.5"/>
<circle class="o" cx="759.2" cy="501.7" r="27.7"/>
<circle class="o" cx="759.2" cy="501.7" r="25.1"/>
<circle class="dash" cx="759.2" cy="498" r="18.5"/>
<path class="dash" d="M748 513 Q752 506 759 507 Q767 508 768 514 Q764 521 757 520 Q749 519 748 513 Z"/>
<line class="d" x1="759.2" y1="66" x2="759.2" y2="93"/>
<line class="d" x1="791" y1="66" x2="791" y2="93"/>
<line class="d" x1="759.2" y1="68.6" x2="791" y2="68.6"/>
<path class="ah" d="M759.2 68.6L764.2 67L764.2 70.2Z"/>
<path class="ah" d="M791 68.6L786 70.2L786 67Z"/>
<text class="td" x="775.3" y="63.8" font-size="8.5" text-anchor="middle" xml:space="preserve" textLength="19.5" lengthAdjust="spacingAndGlyphs">(130)</text>
<line class="d" x1="829" y1="68.6" x2="858" y2="68.6"/>
<line class="d" x1="829" y1="68.6" x2="793.7" y2="128"/>
<path class="ah" d="M793.7 128L794.8 123.42L797.2 124.85Z"/>
<text class="td" x="843.5" y="65" font-size="7.5" text-anchor="middle" xml:space="preserve">Anode</text>
<line class="d" x1="770" y1="84" x2="935" y2="84"/>
<line class="d" x1="800" y1="107.4" x2="914" y2="107.4"/>
<line class="d" x1="847" y1="563" x2="894" y2="563"/>
<line class="d" x1="823" y1="569.6" x2="934" y2="569.6"/>
<line class="d" x1="890.6" y1="107.4" x2="890.6" y2="563"/>
<path class="ah" d="M890.6 107.4L892.2 112.4L889 112.4Z"/>
<path class="ah" d="M890.6 563L889 558L892.2 558Z"/>
<text class="td" x="882.5" y="333.6" font-size="8.5" text-anchor="middle" xml:space="preserve" transform="rotate(-90 882.5 333.6)">(1822)</text>
<line class="d" x1="910.9" y1="107.4" x2="910.9" y2="569.6"/>
<path class="ah" d="M910.9 107.4L912.5 112.4L909.3 112.4Z"/>
<path class="ah" d="M910.9 569.6L909.3 564.6L912.5 564.6Z"/>
<text class="td" x="902.5" y="333.6" font-size="8.5" text-anchor="middle" xml:space="preserve" transform="rotate(-90 902.5 333.6)">(1868)</text>
<line class="d" x1="930.6" y1="84" x2="930.6" y2="569.6"/>
<path class="ah" d="M930.6 84L932.2 89L929 89Z"/>
<path class="ah" d="M930.6 569.6L929 564.6L932.2 564.6Z"/>
<text class="td" x="922.5" y="333.6" font-size="8.5" text-anchor="middle" xml:space="preserve" transform="rotate(-90 922.5 333.6)">(1961)</text>
<text class="tv" x="731.5" y="608.4" font-size="12" text-anchor="start" xml:space="preserve" textLength="60.8" lengthAdjust="spacingAndGlyphs">Front  view</text>
<ellipse class="o4" cx="1226.6" cy="88.3" rx="87.3" ry="20.5"/>
<path class="o4" d="M1139.3 88.3 L1139.3 100 A87.3 20.5 0 0 0 1313.9 100 L1313.9 88.3"/>
<line class="o4" x1="1139.3" y1="100" x2="1139.3" y2="543"/>
<line class="o4" x1="1313.9" y1="100" x2="1313.9" y2="543"/>
<path class="o4" d="M1139.3 543 A87.3 21.5 0 0 0 1313.9 543"/>
<ellipse class="o4" cx="1275" cy="167.4" rx="6.6" ry="7.6"/>
<ellipse class="o3" cx="1272.2" cy="317.8" rx="6.4" ry="7.8"/>
<ellipse class="o4" cx="1275.6" cy="317.8" rx="6.6" ry="7.8"/>
<path class="o4" d="M1260 238.8 L1287 236.3 L1287 251.2 L1260 253.7 Z"/>
<path class="dk2" d="M1260.6 239.3 L1280.5 237.4 L1280.5 251.8 L1260.6 253.2 Z"/>
<path class="o3w" d="M1264 246.5 L1277 245.5"/>
<ellipse class="o4" cx="1274.8" cy="501.2" rx="24.2" ry="26.9"/>
<ellipse class="o3" cx="1276.3" cy="501.6" rx="21.8" ry="25.4"/>
<path class="o4" d="M1255 563.5 Q1261 561 1267 563.5"/>
<text class="tv" x="1192.8" y="608.3" font-size="12" text-anchor="start" xml:space="preserve" textLength="84.2" lengthAdjust="spacingAndGlyphs">Isometric  view</text>
<line class="c" x1="759.2" y1="700" x2="759.2" y2="940"/>
<line class="c" x1="655" y1="835.5" x2="850" y2="835.5"/>
<circle class="o" cx="759.2" cy="835.5" r="87.4"/>
<circle class="o" cx="759.2" cy="835.5" r="74.3"/>
<circle class="o3" cx="759.2" cy="835.5" r="63"/>
<circle class="o3" cx="759.2" cy="835.5" r="59"/>
<circle class="o3" cx="759.2" cy="835.5" r="56.5"/>
<circle class="o2" cx="759.2" cy="835.5" r="52"/>
<circle class="o" cx="758.3" cy="835.5" r="11.5"/>
<circle class="o3" cx="758.3" cy="835.5" r="5"/>
<circle class="o" cx="791.5" cy="835.5" r="11"/>
<circle class="o3" cx="791.5" cy="835.5" r="4.5"/>
<rect class="o" x="695.5" y="796" width="11" height="11" transform="rotate(-149.71 701 801.5)"/>
<circle class="o3" cx="701" cy="801.5" r="2.2"/>
<line class="dash" x1="701" y1="801.5" x2="738.83" y2="823.6"/>
<rect class="o" x="811.7" y="796" width="11" height="11" transform="rotate(-30.38 817.2 801.5)"/>
<circle class="o3" cx="817.2" cy="801.5" r="2.2"/>
<line class="dash" x1="817.2" y1="801.5" x2="779.5" y2="823.6"/>
<rect x="754.4" y="741" width="10" height="40" fill="#fff" stroke="none"/>
<path class="o" d="M754.4 741 L754.4 779 Q759.4 783 764.4 779 L764.4 741 Z"/>
<line class="o" x1="749.5" y1="749" x2="768.5" y2="749"/>
<line class="thick" x1="754.4" y1="750.5" x2="764.4" y2="750.5"/>
<line class="o3" x1="757.5" y1="741" x2="757.5" y2="777"/>
<line class="o3" x1="761.5" y1="741" x2="761.5" y2="777"/>
<rect x="735" y="921.8" width="48.4" height="11.2" fill="#fff" stroke="none"/>
<rect class="o" x="735" y="921.8" width="48.4" height="11.2"/>
<rect class="o3" x="743" y="912" width="32" height="10"/>
<rect class="o" x="752" y="896" width="14" height="37"/>
<rect class="dk4" x="753" y="915" width="12" height="17"/>
<path class="o2" d="M753 918 L765 918 M753 922 L765 922 M753 926 L765 926 M753 930 L765 930"/>
<path class="o3" d="M756 898 L759 893 L762 898"/>
<line class="d" x1="701" y1="725" x2="701" y2="800"/>
<line class="d" x1="816.5" y1="725" x2="816.5" y2="800"/>
<line class="d" x1="701" y1="729.7" x2="816.5" y2="729.7"/>
<path class="ah" d="M701 729.7L706 728.1L706 731.3Z"/>
<path class="ah" d="M816.5 729.7L811.5 731.3L811.5 728.1Z"/>
<text class="td" x="759" y="725.5" font-size="8" text-anchor="middle" xml:space="preserve">(469)</text>
<path class="d" d="M638.92 766.84 A138.5 138.5 0 0 1 878.9 765.83"/>
<line class="d" x1="636.92" y1="765.84" x2="702" y2="801"/>
<line class="d" x1="880.9" y1="764.83" x2="816.5" y2="801"/>
<path class="ah" d="M638.92 766.84L637.83 771.97L635.05 770.39Z"/>
<path class="ah" d="M878.9 765.83L882.8 769.35L880.04 770.96Z"/>
<text class="td" x="759" y="695" font-size="8" text-anchor="middle" xml:space="preserve">3x(120°)</text>
<line class="d" x1="622.5" y1="768.3" x2="760" y2="768.3"/>
<line class="d" x1="622.5" y1="902.5" x2="760" y2="902.5"/>
<line class="d" x1="625.8" y1="768.3" x2="625.8" y2="902.5"/>
<path class="ah" d="M625.8 768.3L627.4 773.3L624.2 773.3Z"/>
<path class="ah" d="M625.8 902.5L624.2 897.5L627.4 897.5Z"/>
<text class="td" x="620.5" y="835.5" font-size="8.5" text-anchor="middle" xml:space="preserve" transform="rotate(-90 620.5 835.5)">(ø542)</text>
<line class="d" x1="765" y1="740.5" x2="897" y2="740.5"/>
<line class="d" x1="848" y1="835.5" x2="897" y2="835.5"/>
<line class="d" x1="783.4" y1="932.4" x2="897" y2="932.4"/>
<line class="d" x1="893.8" y1="740.5" x2="893.8" y2="835.5"/>
<path class="ah" d="M893.8 740.5L895.4 745.5L892.2 745.5Z"/>
<path class="ah" d="M893.8 835.5L892.2 830.5L895.4 830.5Z"/>
<text class="td" x="888" y="788" font-size="8.5" text-anchor="middle" xml:space="preserve" transform="rotate(-90 888 788)">(384)</text>
<line class="d" x1="893.8" y1="835.5" x2="893.8" y2="932.4"/>
<path class="ah" d="M893.8 835.5L895.4 840.5L892.2 840.5Z"/>
<path class="ah" d="M893.8 932.4L892.2 927.4L895.4 927.4Z"/>
<text class="td" x="888" y="883.5" font-size="8.5" text-anchor="middle" xml:space="preserve" transform="rotate(-90 888 883.5)">(393)</text>
<line class="d" x1="640.7" y1="885.6" x2="850.3" y2="796.7"/>
<path class="ah" d="M678.74 869.63L682.72 866.2L683.97 869.15Z"/>
<path class="ah" d="M839.66 801.37L835.68 804.8L834.43 801.85Z"/>
<text class="td" x="653" y="875" font-size="8.5" text-anchor="middle" xml:space="preserve" transform="rotate(-22.98 653 875)">(ø700)</text>
<text class="tv" x="737.5" y="968.4" font-size="12" text-anchor="start" xml:space="preserve" textLength="50.2" lengthAdjust="spacingAndGlyphs">Top  view</text>
<rect x="990" y="951" width="470" height="75" fill="#fff" stroke="none"/>
<rect class="f2" x="990" y="951" width="470" height="75"/>
<line class="f3" x1="990" y1="988.3" x2="1460" y2="988.3"/>
<line class="f3" x1="1262.7" y1="951" x2="1262.7" y2="988.3"/>
<line class="f3" x1="1361.7" y1="951" x2="1361.7" y2="988.3"/>
<line class="f3" x1="1088.3" y1="988.3" x2="1088.3" y2="1026"/>
<text class="tt" x="993.5" y="966.8" font-size="11" text-anchor="start" xml:space="preserve" textLength="208" lengthAdjust="spacingAndGlyphs">Unterliegt  nicht  dem  Änderungsdienst/</text>
<text class="tt" x="993.5" y="983.2" font-size="11" text-anchor="start" xml:space="preserve" textLength="196" lengthAdjust="spacingAndGlyphs">Not  subject  to  change  management</text>
<text class="tt" x="1265.5" y="961.3" font-size="8" text-anchor="start" xml:space="preserve" textLength="34" lengthAdjust="spacingAndGlyphs">Maßstab/</text>
<text class="tt" x="1265.5" y="972.3" font-size="8" text-anchor="start" xml:space="preserve" textLength="22" lengthAdjust="spacingAndGlyphs">Scale:</text>
<text class="tt2" x="1310.3" y="979.3" font-size="13.5" text-anchor="start" xml:space="preserve" textLength="22.4" lengthAdjust="spacingAndGlyphs">1:10</text>
<text class="tt" x="1365" y="961.3" font-size="8" text-anchor="start" xml:space="preserve" textLength="31.5" lengthAdjust="spacingAndGlyphs">Format/</text>
<text class="tt" x="1365" y="972.3" font-size="8" text-anchor="start" xml:space="preserve" textLength="17" lengthAdjust="spacingAndGlyphs">Size:</text>
<text class="tt2" x="1407.7" y="979.3" font-size="13.5" text-anchor="start" xml:space="preserve" textLength="13.3" lengthAdjust="spacingAndGlyphs">A2</text>
<text class="tt" x="993.8" y="999.6" font-size="7.5" text-anchor="start" xml:space="preserve" textLength="29" lengthAdjust="spacingAndGlyphs">Revision</text>
<text class="tt2" x="1009.5" y="1014.6" font-size="13.5" text-anchor="start" xml:space="preserve" textLength="59.5" lengthAdjust="spacingAndGlyphs">26.04.2022</text>
<text class="tt2" x="1125" y="1013.6" font-size="13" text-anchor="start" xml:space="preserve" textLength="298" lengthAdjust="spacingAndGlyphs">Storatherm  Aqua  Solar  AF  500  2_C  white  –  7849200</text>
<rect x="1326.6" y="892" width="128.4" height="54.4" rx="5.5" fill="#7db642"/>
<rect x="1331.4" y="899.3" width="100.7" height="40.3" rx="2.5" fill="#fff"/>
<text x="1338.8" y="932.8" font-size="40" font-weight="bold" fill="#111" stroke="#111" stroke-width="0.9" textLength="84"  lengthAdjust="spacingAndGlyphs">reflex</text>
</svg></body></html>
